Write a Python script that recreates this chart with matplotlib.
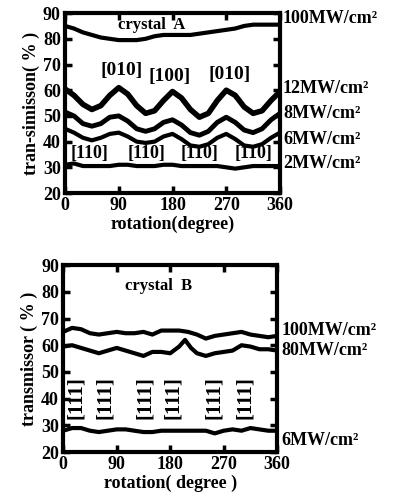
import numpy as np
import matplotlib
matplotlib.use('Agg')
import matplotlib.pyplot as plt

plt.rcParams['font.family'] = ['Liberation Serif', 'DejaVu Serif']
plt.rcParams['font.weight'] = 'bold'

angle = [0, 15, 30, 45, 60, 75, 90, 105, 120, 135, 150, 165, 180,
         195, 210, 225, 240, 255, 270, 285, 300, 315, 330, 345, 360]

# crystal A
a_100 = [85, 84, 82.5, 81.5, 80.5, 80, 79.5, 79.5, 79.5, 80, 81, 81.5, 81.5,
         81.5, 81.5, 82, 82.5, 83, 83.5, 84, 85, 85.5, 85.5, 85.5, 85.5]
a_12 = [60.5, 58, 54.5, 52.5, 54, 58, 61, 58.5, 54, 51, 52, 56, 59.5,
        57, 52.5, 49.5, 51, 56, 60, 58, 53.5, 51, 52, 56, 59.5]
a_8 = [51.5, 50, 47, 46, 47, 49.5, 50, 48, 45, 44, 45, 47.5, 48.5,
       46.5, 43.5, 42.5, 44, 47.5, 49.5, 47.5, 44.5, 43.5, 45, 48.5, 51]
a_6 = [45, 43.5, 41.5, 40.5, 41.5, 43, 43.5, 42, 40, 39.5, 40, 42, 43,
       41, 38.5, 38, 39, 41.5, 43, 41, 38.5, 38, 39, 41.5, 43.5]
a_2 = [31, 31.5, 30.5, 30.5, 30.5, 30.5, 31, 31, 30.5, 30.5, 30.5, 31, 31,
       30.5, 30.5, 30.5, 30.5, 30.5, 30, 29.5, 30, 30.5, 30.5, 30.5, 30.5]

# crystal B
b_100 = [65, 66.5, 66, 64.5, 64, 64.5, 65, 64.5, 64.5, 65, 64, 65.5, 65.5,
         65.5, 65, 64, 62.5, 63.5, 64, 64.5, 65, 64, 63.5, 63, 63.5]
b_80_x = [0, 15, 30, 45, 60, 75, 90, 105, 120, 135, 150, 165, 180,
          195, 205, 215, 225, 240, 255, 270, 285, 300, 315, 330, 345, 360]
b_80 = [59.5, 60, 59, 58, 57, 58, 59, 58, 57, 56, 57.5, 57.5, 57,
        59.5, 62, 59, 57, 56, 57, 57.5, 58, 60, 59.5, 58.5, 58.5, 58]
b_6 = [28, 29, 29, 28, 27.5, 28, 28.5, 28.5, 28, 27.5, 27.5, 28, 28,
       28, 28, 28, 28, 27, 28, 28.5, 28, 29, 28.5, 28, 28]

a_labels = ['100MW/cm²', '12MW/cm²', '8MW/cm²', '6MW/cm²', '2MW/cm²']
a_label_y = [88, 60.8, 51, 41, 31.5]
b_labels = ['100MW/cm²', '80MW/cm²', '6MW/cm²']
b_label_y = [65.5, 58, 24.5]

dir_top = ['[010]', '[100]', '[010]']
dir_top_x = [94, 175, 276]
dir_top_y = [67.5, 65.5, 66]
dir_110_x = [41, 136, 226, 315]
b_111_x = [22, 70, 138, 185, 253, 306]

fig = plt.figure(figsize=(4, 5.04), dpi=100)
ax1 = fig.add_axes([0.1625, 0.617, 0.5375, 0.357])
ax2 = fig.add_axes([0.158, 0.103, 0.535, 0.371])


def style(ax, ylabel, xlabel):
    ax.set_xlim(0, 360)
    ax.set_ylim(20, 90)
    ax.set_xticks([0, 90, 180, 270, 360])
    ax.set_yticks(range(20, 91, 10))
    ax.tick_params(direction='in', width=2.5, length=5, labelsize=13,
                   top=True, right=True, pad=3)
    for s in ax.spines.values():
        s.set_linewidth(3)
    ax.set_xlabel(xlabel, fontsize=13, fontweight='bold', labelpad=1)
    ax.set_ylabel(ylabel, fontsize=13, fontweight='bold', labelpad=2)


style(ax1, 'tran-simisson( % )', 'rotation(degree)')
ax1.plot(angle, a_100, color='k', lw=3)
ax1.plot(angle, a_12, color='k', lw=4)
ax1.plot(angle, a_8, color='k', lw=3.5)
ax1.plot(angle, a_6, color='k', lw=3)
ax1.plot(angle, a_2, color='k', lw=3)
ax1.text(145, 85.5, 'crystal  A', ha='center', va='center', fontsize=12)
for t, x, y in zip(dir_top, dir_top_x, dir_top_y):
    ax1.text(x, y, t, ha='center', va='center', fontsize=14)
for x in dir_110_x:
    ax1.text(x, 35.5, '[110]', ha='center', va='center', fontsize=13)
for t, y in zip(a_labels, a_label_y):
    ax1.text(365, y, t, ha='left', va='center', fontsize=13, clip_on=False)

style(ax2, 'transmissor ( % )', 'rotation( degree )')
ax2.plot(angle, b_100, color='k', lw=3)
ax2.plot(b_80_x, b_80, color='k', lw=3)
ax2.plot(angle, b_6, color='k', lw=3)
ax2.text(160, 82, 'crystal  B', ha='center', va='center', fontsize=12)
for x in b_111_x:
    ax2.text(x, 40.5, '[111]', ha='center', va='center', fontsize=15,
             rotation=90)
for t, y in zip(b_labels, b_label_y):
    ax2.text(367, y, t, ha='left', va='center', fontsize=13, clip_on=False)

fig.savefig('out.png', dpi=100)
